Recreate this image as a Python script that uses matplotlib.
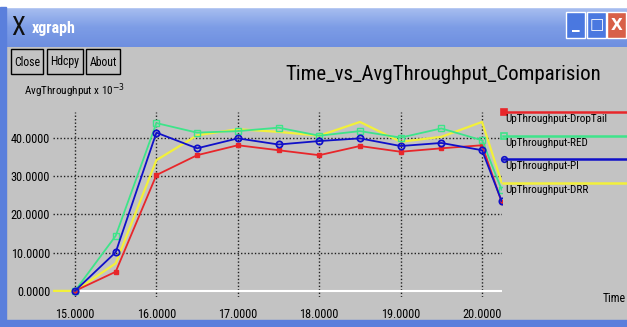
import matplotlib.pyplot as plt
from matplotlib.patches import Rectangle
from matplotlib.lines import Line2D
from matplotlib.colors import LinearSegmentedColormap
from matplotlib import font_manager
import numpy as np

# data (values x 10^-3)
time = [15.0, 15.5, 16.0, 16.5, 17.0, 17.5, 18.0, 18.5, 19.0, 19.5, 20.0, 20.24]
droptail = [0.0, 5.0, 30.3, 35.5, 38.1, 36.8, 35.5, 37.9, 36.4, 37.3, 38.1, 23.3]
red_q = [0.0, 14.4, 43.9, 41.4, 41.8, 42.7, 40.6, 41.8, 40.1, 42.5, 39.4, 26.5]
pi_q = [0.0, 10.1, 41.4, 37.3, 39.9, 38.3, 39.2, 39.9, 37.9, 38.7, 36.8, 23.5]
drr_time = [14.74] + time
drr = [0.0, 0.0, 7.2, 34.2, 40.7, 42.3, 41.6, 40.6, 44.2, 39.0, 40.3, 44.2, 28.4]

names = ["UpThroughput-DropTail", "UpThroughput-RED", "UpThroughput-PI", "UpThroughput-DRR"]
colors = ["#e8262a", "#3ee48a", "#1010c8", "#f2f03a"]
xticks = [15, 16, 17, 18, 19, 20]
yticks = [0, 10, 20, 30, 40]

W, H = 627, 327
GRAY = "#c3c3c3"

# pick a narrow font if one is there, otherwise Liberation Sans with smaller sizes
have = {f.name for f in font_manager.fontManager.ttflist}
narrow = None
for cand in ["Liberation Sans Narrow", "Roboto Condensed", "DejaVu Sans Condensed", "Open Sans Condensed"]:
    if cand in have:
        narrow = cand
        break
if narrow:
    FONT = [narrow, "DejaVu Sans"]
    k = 1.0
else:
    FONT = ["Liberation Sans", "DejaVu Sans"]
    k = 0.85


def fx(x):
    return x / W


def fy(y):
    return 1 - y / H


fig = plt.figure(figsize=(W / 100, H / 100), dpi=100)
fig.patch.set_facecolor(GRAY)

# window frame: white strip, title bar, borders
fig.add_artist(Rectangle((0, fy(7)), 1, 7 / H, transform=fig.transFigure, color="white"))
tb = fig.add_axes([0, fy(47), 1, 40 / H])
grad = np.linspace(0, 1, 40).reshape(-1, 1)
cm = LinearSegmentedColormap.from_list("tb", ["#a9bff0", "#7d9de6", "#6e8fe0"])
tb.imshow(grad, aspect="auto", cmap=cm, extent=[0, 1, 0, 1])
tb.axis("off")
fig.text(fx(11), fy(28), "X", fontsize=18, color="#101010", family=FONT, va="center")
fig.text(fx(32), fy(28), "xgraph", fontsize=11.5, color="white", weight="bold", family=FONT, va="center")
for x0, fc, sym in [(566, "#4a78e0", "_"), (587, "#4a78e0", "□"), (607, "#d86048", "X")]:
    fig.add_artist(Rectangle((fx(x0), fy(38)), 19 / W, 26 / H, transform=fig.transFigure,
                             facecolor=fc, edgecolor="white", lw=1))
    fig.text(fx(x0 + 9.5), fy(25), sym, fontsize=11, color="white", weight="bold",
             ha="center", va="center", family=["DejaVu Sans"])
fig.add_artist(Rectangle((0, 0), 6 / W, fy(7), transform=fig.transFigure, color="#5a7fdc"))
fig.add_artist(Rectangle((0, 0), 1, 7 / H, transform=fig.transFigure, color="#5a7fdc"))

# buttons
for x0, x1, lab in [(11, 43, "Close"), (47, 83, "Hdcpy"), (86, 120, "About")]:
    fig.add_artist(Rectangle((fx(x0), fy(74)), (x1 - x0) / W, 25 / H, transform=fig.transFigure,
                             facecolor=GRAY, edgecolor="black", lw=1))
    fig.text(fx((x0 + x1) / 2), fy(62), lab, fontsize=8.5 * k, family=FONT, ha="center", va="center")

fig.text(fx(24), fy(91), r"AvgThroughput x 10$^{-3}$", fontsize=8 * k, family=FONT, va="center")
fig.text(fx(443), fy(74), "Time_vs_AvgThroughput_Comparision", fontsize=15 * k,
         family=FONT, ha="center", va="center")
fig.text(fx(626), fy(299), "Time", fontsize=8.5 * k, family=FONT, ha="right", va="center")

# plot area
x_left, x_right = 14.73, 20.245
ax = fig.add_axes([fx(53), fy(297), (502 - 53) / W, (297 - 112) / H])
ax.set_facecolor(GRAY)
ax.set_xlim(x_left, x_right)
ax.set_ylim(-1.6, 46.8)
for s in ax.spines.values():
    s.set_visible(False)
ax.set_xticks(xticks)
ax.set_yticks(yticks)
ax.set_xticklabels([f"{v:.4f}" for v in xticks], family=FONT, fontsize=8.8 * k)
ax.set_yticklabels([f"{v:.4f}" for v in yticks], family=FONT, fontsize=8.8 * k)
ax.tick_params(length=0, pad=2)
ax.tick_params(axis="x", pad=8)
for v in xticks:
    ax.axvline(v, color="#202020", lw=1, ls=(0, (1, 1.5)), zorder=1)
for v in yticks[1:]:
    ax.axhline(v, color="#202020", lw=1, ls=(0, (1, 1.5)), zorder=1)
ax.plot([15, x_right], [0, 0], color="white", lw=1.5, zorder=1)

ax.plot(time, droptail, color=colors[0], lw=1.3, marker="s", ms=3, mfc=colors[0], zorder=3)
ax.plot(time, red_q, color=colors[1], lw=1.3, marker="s", ms=4.5, mfc="none", mew=1, zorder=3)
ax.plot(time, pi_q, color=colors[2], lw=1.3, marker="o", ms=4.5, mfc="none", mew=1.3, zorder=4)
ax.plot(drr_time, drr, color=colors[3], lw=1.6, zorder=2)

# legend on the right, xgraph style
for i, (name, c) in enumerate(zip(names, colors)):
    yl = [112, 136, 159, 183][i]
    fig.add_artist(Line2D([fx(503), 1], [fy(yl), fy(yl)], transform=fig.transFigure, color=c, lw=1.8))
    mk = ["s", "s", "o", None][i]
    if mk:
        fig.add_artist(Line2D([fx(504)], [fy(yl)], transform=fig.transFigure, color=c,
                              marker=mk, ms=4, mfc=c if i == 0 else "none", mew=1.2))
    fig.text(fx(505), fy(yl + 2), name, fontsize=8 * k, family=FONT, va="top")

fig.savefig("out.png", dpi=100, facecolor=fig.get_facecolor())
